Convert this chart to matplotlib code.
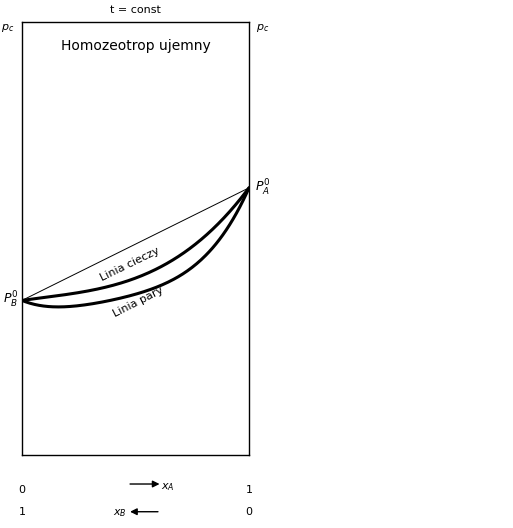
import matplotlib
matplotlib.use("Agg")
import matplotlib.pyplot as plt
import numpy as np

# Data (mole fraction of A vs pressure, relative units)
pB0 = 0.357
pA0 = 0.617
liquid_x = [0.0, 0.211, 0.432, 0.498, 0.696, 0.872, 0.960, 1.0]
liquid_p = [0.357, 0.374, 0.394, 0.406, 0.467, 0.536, 0.584, 0.617]
vapor_x = [0.0, 0.10, 0.211, 0.432, 0.476, 0.52, 0.696, 0.872, 0.960, 1.0]
vapor_p = [0.357, 0.346, 0.342, 0.362, 0.366, 0.375, 0.416, 0.501, 0.566, 0.617]

title_text = "t = const"
inner_text = "Homozeotrop ujemny"
liquid_label = "Linia cieczy"
vapor_label = "Linia pary"

plt.rcParams['font.family'] = ['DejaVu Sans']

fig = plt.figure(figsize=(5.13, 5.28), dpi=100)
ax = fig.add_axes([22/513, (528-455)/528, 227/513, 433/528])
ax.set_xlim(0, 1)
ax.set_ylim(0, 1)
ax.set_xticks([])
ax.set_yticks([])
for s in ax.spines.values():
    s.set_linewidth(1.0)

def smooth(xs, ps, deg=3, n=200):
    xs = np.asarray(xs); ps = np.asarray(ps)
    w = np.ones_like(xs); w[0] = w[-1] = 20
    coef = np.polyfit(xs, ps, deg, w=w)
    t = np.linspace(0, 1, n)
    return t, np.polyval(coef, t)

ax.plot([0, 1], [pB0, pA0], color='black', lw=0.7)
lx, lp = smooth(liquid_x, liquid_p)
vx, vp = smooth(vapor_x, vapor_p, deg=4)
ax.plot(lx, lp, color='black', lw=2.2, solid_capstyle='round')
ax.plot(vx, vp, color='black', lw=2.2, solid_capstyle='round')

fs = 8
ax.text(0.476, 0.441, liquid_label, rotation=26, ha='center', va='center',
        rotation_mode='anchor', fontsize=fs)
ax.text(0.511, 0.353, vapor_label, rotation=27, ha='center', va='center',
        rotation_mode='anchor', fontsize=fs)

ax.text(0.5, 1.028, title_text, ha='center', va='center', fontsize=fs,
        transform=ax.transAxes, clip_on=False)
ax.text(0.5, 0.945, inner_text, ha='center', va='center', fontsize=10,
        transform=ax.transAxes)
ax.text(-0.065, 0.985, r'$p_c$', ha='center', va='center', fontsize=fs,
        transform=ax.transAxes, clip_on=False)
ax.text(1.06, 0.985, r'$p_c$', ha='center', va='center', fontsize=fs,
        transform=ax.transAxes, clip_on=False)

ax.text(-0.015, pB0, r'$P_B^0$', ha='right', va='center', fontsize=9,
        clip_on=False)
ax.text(1.025, pA0, r'$P_A^0$', ha='left', va='center', fontsize=9,
        clip_on=False)

# bottom scales
ax.text(0.0, -0.081, "0", ha='center', va='center', fontsize=fs,
        transform=ax.transAxes, clip_on=False)
ax.text(1.0, -0.081, "1", ha='center', va='center', fontsize=fs,
        transform=ax.transAxes, clip_on=False)
ax.text(0.0, -0.132, "1", ha='center', va='center', fontsize=fs,
        transform=ax.transAxes, clip_on=False)
ax.text(1.0, -0.132, "0", ha='center', va='center', fontsize=fs,
        transform=ax.transAxes, clip_on=False)

ax.annotate("", xy=(0.606, -0.067), xytext=(0.476, -0.067),
            xycoords='axes fraction', textcoords='axes fraction',
            arrowprops=dict(arrowstyle='-|>', color='black', lw=1,
                            mutation_scale=10, shrinkA=0, shrinkB=0),
            annotation_clip=False)
ax.text(0.612, -0.075, r'$x_A$', ha='left', va='center', fontsize=fs,
        transform=ax.transAxes, clip_on=False)
ax.annotate("", xy=(0.476, -0.131), xytext=(0.599, -0.131),
            xycoords='axes fraction', textcoords='axes fraction',
            arrowprops=dict(arrowstyle='-|>', color='black', lw=1,
                            mutation_scale=10, shrinkA=0, shrinkB=0),
            annotation_clip=False)
ax.text(0.462, -0.135, r'$x_B$', ha='right', va='center', fontsize=fs,
        transform=ax.transAxes, clip_on=False)

fig.savefig("out.png", dpi=100)
